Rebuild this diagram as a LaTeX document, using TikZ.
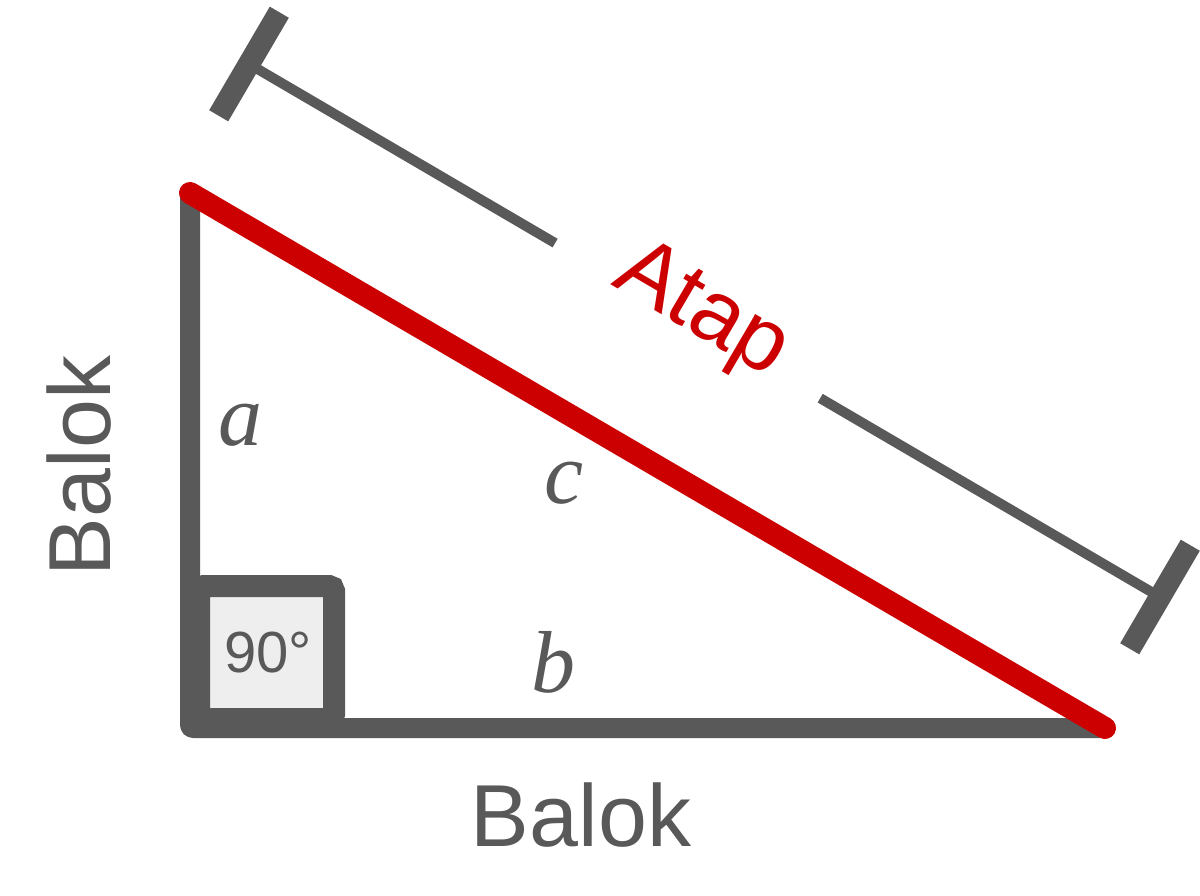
\documentclass[tikz,border=0pt]{standalone}
\usepackage{fontspec}
\setmainfont{Liberation Serif}
\setsansfont{Liberation Sans}
\usetikzlibrary{calc}
\definecolor{dgray}{HTML}{595959}
\definecolor{tred}{HTML}{CC0000}
\definecolor{lgray}{HTML}{EEEEEE}
\begin{document}
\begin{tikzpicture}[x=1pt,y=-1pt,
  leg/.style={draw=dgray,line width=20pt,line join=round,rounded corners=3pt},
  hyp/.style={draw=tred,line width=22pt,line cap=round},
  dimline/.style={draw=dgray,line width=10pt},
  tickbar/.style={draw=dgray,line width=22pt},
  sidelabel/.style={font=\itshape\fontsize{88}{88}\selectfont,text=dgray,anchor=base,inner sep=0pt},
  bigtext/.style={font=\sffamily\fontsize{88}{88}\selectfont,text=dgray,anchor=base,inner sep=0pt}]
\fill[white] (0,0) rectangle (1200,896);
\useasboundingbox (0,0) rectangle (1200,896);
% triangle vertices
\coordinate (A) at (190,193);
\coordinate (B) at (190,728);
\coordinate (C) at (1105,728);
\draw[leg] (A) -- (B) -- (C);
% right angle box
\fill[lgray] (210,597) rectangle (323,708);
\draw[draw=dgray,line width=22pt,rounded corners=5pt] (199,586) rectangle (334,719);
\node[font=\sffamily\fontsize{58}{58}\selectfont,text=dgray,inner sep=0pt] (ang) at (268,653) {90°};
% hypotenuse
\draw[hyp] (A) -- (C);
% dimension line
\coordinate (D1) at (249,64);
\coordinate (D2) at (1160,597);
\coordinate (G1) at ($(D1)!0.336!(D2)$);
\coordinate (G2) at ($(D1)!0.627!(D2)$);
\draw[dimline] (D1) -- (G1);
\draw[dimline] (G2) -- (D2);
\draw[tickbar] ($(D1)!60pt!90:(D2)$) -- ($(D1)!60pt!-90:(D2)$);
\draw[tickbar] ($(D2)!60pt!90:(D1)$) -- ($(D2)!60pt!-90:(D1)$);
\node[font=\sffamily\fontsize{90}{90}\selectfont,text=tred,anchor=base,inner sep=0pt,rotate=-30.4] (atap) at (690,331) {Atap};
% labels
\node[sidelabel] (la) at (240,445) {a};
\node[sidelabel] (lc) at (564,503) {c};
\node[sidelabel] (lb) at (553,692) {b};
\node[bigtext] (bbot) at (581,846) {Balok};
\node[bigtext,rotate=90] (bleft) at (110,466) {Balok};
\end{tikzpicture}
\end{document}
